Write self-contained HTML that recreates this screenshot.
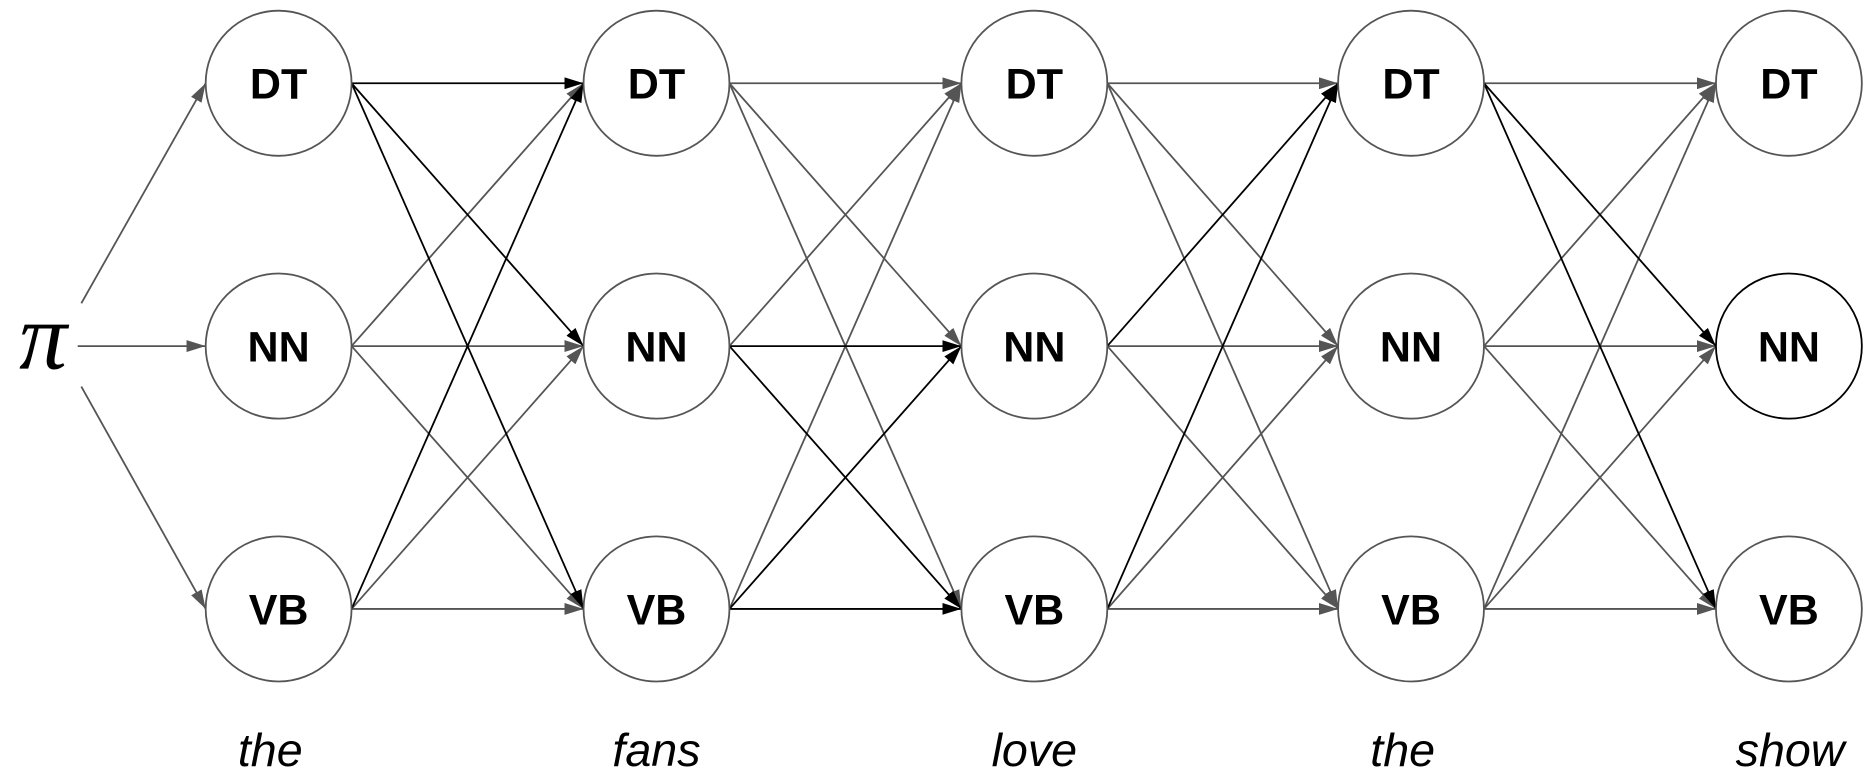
<!DOCTYPE html>
<html><head><meta charset="utf-8"><style>
html,body{margin:0;padding:0;background:#fff;}
svg{display:block;}
</style></head><body>
<svg width="1875" height="779" viewBox="0 0 1568 655" preserveAspectRatio="none" xmlns="http://www.w3.org/2000/svg">
<defs>
<marker id="g" markerUnits="userSpaceOnUse" markerWidth="16" markerHeight="10" refX="16" refY="5" orient="auto"><path d="M0,0 L16,5 L0,10 z" fill="#555"/></marker>
<marker id="k" markerUnits="userSpaceOnUse" markerWidth="16" markerHeight="10" refX="16" refY="5" orient="auto"><path d="M0,0 L16,5 L0,10 z" fill="#000"/></marker>
</defs>
<g stroke-width="1.5" fill="none">
<line x1="68" y1="255" x2="172" y2="70" stroke="#555" marker-end="url(#g)"/>
<line x1="65" y1="291" x2="172" y2="291" stroke="#555" marker-end="url(#g)"/>
<line x1="68" y1="325" x2="172" y2="512" stroke="#555" marker-end="url(#g)"/>
<line x1="294" y1="291" x2="488" y2="70" stroke="#555" marker-end="url(#g)"/>
<line x1="294" y1="291" x2="488" y2="291" stroke="#555" marker-end="url(#g)"/>
<line x1="294" y1="291" x2="488" y2="512" stroke="#555" marker-end="url(#g)"/>
<line x1="294" y1="512" x2="488" y2="291" stroke="#555" marker-end="url(#g)"/>
<line x1="294" y1="512" x2="488" y2="512" stroke="#555" marker-end="url(#g)"/>
<line x1="294" y1="70" x2="488" y2="70" stroke="#000" marker-end="url(#k)"/>
<line x1="294" y1="70" x2="488" y2="291" stroke="#000" marker-end="url(#k)"/>
<line x1="294" y1="70" x2="488" y2="512" stroke="#000" marker-end="url(#k)"/>
<line x1="294" y1="512" x2="488" y2="70" stroke="#000" marker-end="url(#k)"/>
<line x1="610" y1="70" x2="804" y2="70" stroke="#555" marker-end="url(#g)"/>
<line x1="610" y1="70" x2="804" y2="291" stroke="#555" marker-end="url(#g)"/>
<line x1="610" y1="70" x2="804" y2="512" stroke="#555" marker-end="url(#g)"/>
<line x1="610" y1="291" x2="804" y2="70" stroke="#555" marker-end="url(#g)"/>
<line x1="610" y1="512" x2="804" y2="70" stroke="#555" marker-end="url(#g)"/>
<line x1="610" y1="291" x2="804" y2="291" stroke="#000" marker-end="url(#k)"/>
<line x1="610" y1="291" x2="804" y2="512" stroke="#000" marker-end="url(#k)"/>
<line x1="610" y1="512" x2="804" y2="291" stroke="#000" marker-end="url(#k)"/>
<line x1="610" y1="512" x2="804" y2="512" stroke="#000" marker-end="url(#k)"/>
<line x1="926" y1="70" x2="1119" y2="70" stroke="#555" marker-end="url(#g)"/>
<line x1="926" y1="70" x2="1119" y2="291" stroke="#555" marker-end="url(#g)"/>
<line x1="926" y1="70" x2="1119" y2="512" stroke="#555" marker-end="url(#g)"/>
<line x1="926" y1="291" x2="1119" y2="291" stroke="#555" marker-end="url(#g)"/>
<line x1="926" y1="291" x2="1119" y2="512" stroke="#555" marker-end="url(#g)"/>
<line x1="926" y1="512" x2="1119" y2="291" stroke="#555" marker-end="url(#g)"/>
<line x1="926" y1="512" x2="1119" y2="512" stroke="#555" marker-end="url(#g)"/>
<line x1="926" y1="291" x2="1119" y2="70" stroke="#000" marker-end="url(#k)"/>
<line x1="926" y1="512" x2="1119" y2="70" stroke="#000" marker-end="url(#k)"/>
<line x1="1241" y1="70" x2="1435" y2="70" stroke="#555" marker-end="url(#g)"/>
<line x1="1241" y1="291" x2="1435" y2="70" stroke="#555" marker-end="url(#g)"/>
<line x1="1241" y1="291" x2="1435" y2="291" stroke="#555" marker-end="url(#g)"/>
<line x1="1241" y1="291" x2="1435" y2="512" stroke="#555" marker-end="url(#g)"/>
<line x1="1241" y1="512" x2="1435" y2="70" stroke="#555" marker-end="url(#g)"/>
<line x1="1241" y1="512" x2="1435" y2="291" stroke="#555" marker-end="url(#g)"/>
<line x1="1241" y1="512" x2="1435" y2="512" stroke="#555" marker-end="url(#g)"/>
<line x1="1241" y1="70" x2="1435" y2="291" stroke="#000" marker-end="url(#k)"/>
<line x1="1241" y1="70" x2="1435" y2="512" stroke="#000" marker-end="url(#k)"/>
</g>
<g fill="#fff" stroke="#555" stroke-width="1.5">
<circle cx="233" cy="70" r="61"/><circle cx="233" cy="291" r="61"/><circle cx="233" cy="512" r="61"/>
<circle cx="549" cy="70" r="61"/><circle cx="549" cy="291" r="61"/><circle cx="549" cy="512" r="61"/>
<circle cx="865" cy="70" r="61"/><circle cx="865" cy="291" r="61"/><circle cx="865" cy="512" r="61"/>
<circle cx="1180" cy="70" r="61"/><circle cx="1180" cy="291" r="61"/><circle cx="1180" cy="512" r="61"/>
<circle cx="1496" cy="70" r="61"/><circle cx="1496" cy="291" r="61" stroke="#000"/><circle cx="1496" cy="512" r="61"/>
</g>
<g font-family="Liberation Sans, sans-serif" font-weight="bold" font-size="36" text-anchor="middle" fill="#000">
<text x="233" y="83">DT</text><text x="233" y="304">NN</text><text x="233" y="525">VB</text>
<text x="549" y="83">DT</text><text x="549" y="304">NN</text><text x="549" y="525">VB</text>
<text x="865" y="83">DT</text><text x="865" y="304">NN</text><text x="865" y="525">VB</text>
<text x="1180" y="83">DT</text><text x="1180" y="304">NN</text><text x="1180" y="525">VB</text>
<text x="1496" y="83">DT</text><text x="1496" y="304">NN</text><text x="1496" y="525">VB</text>
</g>
<g font-family="Liberation Sans, sans-serif" font-style="italic" font-size="39" text-anchor="middle" fill="#000">
<text x="226" y="644">the</text><text x="549" y="644">fans</text><text x="865" y="644">love</text><text x="1173" y="644">the</text><text x="1497" y="644">show</text>
</g>
<text x="36" y="310" font-family="Liberation Serif, DejaVu Serif, serif" font-style="italic" font-size="80" text-anchor="middle">π</text>
</svg>
</body></html>
